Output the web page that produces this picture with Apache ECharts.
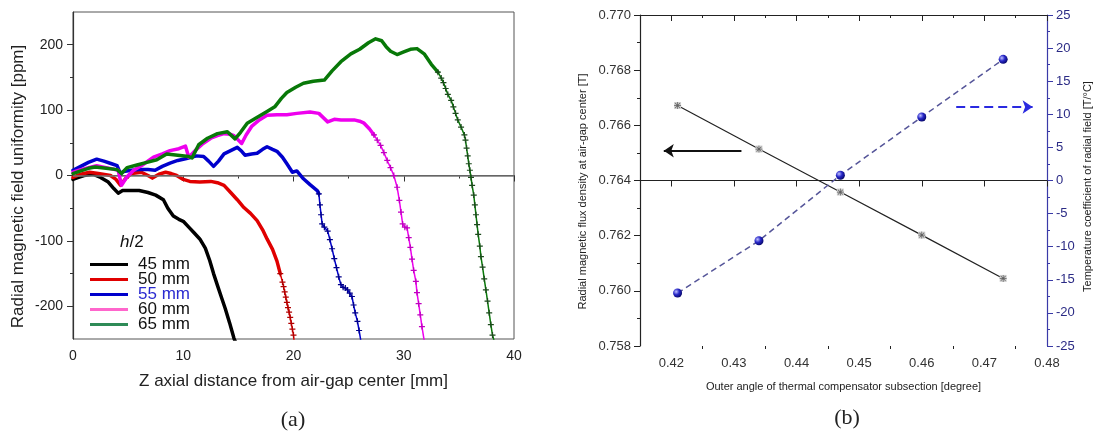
<!DOCTYPE html>
<html><head><meta charset="utf-8">
<script src="https://cdn.jsdelivr.net/npm/echarts@6/dist/echarts.min.js"></script>
<style>html,body{margin:0;padding:0;background:#fff}#c{width:1102px;height:436px}</style>
</head><body><div id="c"></div>
<script>
// ---------- (a) data: [z (mm), uniformity (ppm)] ----------
const curveNames = ['45 mm', '50 mm', '55 mm', '60 mm', '65 mm'];
const curve45 = [[0,-6],[0.5,-3],[1,0],[1.8,2],[2.5,-3],[3.2,-10],[3.7,-20],[4.1,-27],[4.5,-23],[5.2,-23],[6,-23],[6.8,-26],[7.5,-30],[8.2,-37],[8.6,-50],[9.1,-62],[9.6,-67],[10,-70],[10.5,-79],[11,-88],[11.5,-97],[12,-111],[12.4,-130],[12.75,-150],[13.1,-168],[13.5,-188],[13.8,-203],[14.2,-225],[14.6,-249],[14.7,-253]];
const curve50Body = [[0,-3],[0.7,2],[1.5,5],[2.3,3],[3.4,0],[3.9,-6],[4.3,-15],[4.8,-4],[5.3,3],[6.2,5],[6.8,0],[7.2,-4],[7.8,2],[8.4,5],[8.9,3],[9.4,0],[10,-6],[10.6,-9],[11.5,-10],[12.5,-9],[13.1,-11],[13.7,-15],[14.3,-26],[14.9,-37],[15.5,-49],[16.1,-58],[16.7,-69],[17.2,-83],[17.6,-97],[18.1,-113],[18.5,-131],[18.8,-150]];
const curve50Tail = [[18.8,-150],[19.0,-163],[19.1,-170],[19.2,-178],[19.3,-186],[19.4,-194],[19.5,-202],[19.6,-209],[19.7,-217],[19.8,-226],[19.9,-235],[20.0,-244],[20.05,-253]];
const curve55Body = [[0,8],[0.7,14],[1.4,20],[2.15,25],[2.8,22],[3.5,18],[4.0,15],[4.3,3],[4.6,6],[5.3,8],[6,9],[6.8,9],[7.45,8],[8.1,14],[8.8,19],[9.5,23],[10.3,26],[11.2,30],[11.85,29],[12.3,22],[12.75,14],[13.2,22],[13.7,33],[14.3,38],[14.9,43],[15.3,37],[15.6,31],[16.2,33],[16.7,34],[17.2,40],[17.6,44],[18.1,40],[18.5,37],[19,28],[19.4,18],[19.9,5],[20.3,7],[20.9,-5],[21.5,-14],[22.15,-23],[22.3,-28]];
const curve55Tail = [[22.3,-28],[22.4,-45],[22.5,-60],[22.6,-74],[22.8,-79],[23.1,-85],[23.3,-98],[23.5,-112],[23.7,-127],[23.9,-141],[24.1,-155],[24.3,-167],[24.5,-171],[24.7,-172],[24.9,-175],[25.1,-180],[25.3,-185],[25.45,-198],[25.6,-210],[25.8,-223],[25.95,-237],[26.1,-252]];
const curve60Body = [[0,5],[0.7,9],[1.4,12],[2.15,15],[3,12],[4.1,8],[4.4,-15],[4.9,-2],[5.5,8],[6.3,16],[7.3,28],[8.1,33],[8.8,38],[9.6,41],[10.2,45],[10.5,28],[11.2,40],[11.8,49],[12.5,57],[13.1,61],[13.7,64],[14.3,63],[14.6,61],[15.3,49],[15.7,62],[16.2,75],[16.9,85],[17.6,92],[18.5,93],[19.4,93],[20.3,95],[21.5,97],[22.3,95],[23.1,82],[23.7,86],[24.3,85],[25.5,85],[26,83],[26.4,80],[26.9,71],[27.3,62]];
const curve60Tail = [[27.3,62],[27.6,54],[27.9,46],[28.2,35],[28.5,23],[28.8,12],[29.1,0],[29.4,-18],[29.6,-38],[29.75,-56],[29.9,-74],[30.1,-79],[30.3,-80],[30.45,-95],[30.6,-110],[30.75,-128],[30.9,-145],[31.1,-162],[31.2,-179],[31.35,-196],[31.5,-213],[31.65,-231],[31.85,-252]];
const curve65Body = [[0,3],[0.7,7],[1.4,11],[2,13],[3,11],[4,9],[4.4,3],[4.9,12],[5.8,16],[6.7,20],[7.6,24],[8.5,33],[9.5,31],[10.5,29],[10.8,27],[11.4,47],[12.2,57],[13.1,64],[14,67],[14.7,56],[15.2,66],[15.8,80],[16.6,88],[17.6,98],[18.3,105],[18.9,118],[19.4,127],[20.2,135],[20.9,141],[21.8,144],[22.8,146],[23.5,160],[24.3,174],[25.2,186],[26,193],[26.8,203],[27.45,209],[28,206],[28.4,197],[28.8,190],[29.4,185],[30,189],[30.6,193],[31.2,194],[31.85,186],[32.5,170],[33.1,158]];
const curve65Tail = [[33.1,158],[33.4,149],[33.6,142],[33.8,133],[34.0,124],[34.3,115],[34.5,105],[34.7,95],[34.9,85],[35.2,74],[35.5,62],[35.6,54],[35.7,42],[35.8,30],[35.9,18],[36.0,8],[36.1,-3],[36.2,-15],[36.35,-30],[36.45,-45],[36.55,-60],[36.65,-75],[36.75,-90],[36.9,-108],[37.0,-124],[37.15,-140],[37.3,-158],[37.45,-175],[37.6,-192],[37.75,-210],[37.9,-228],[38.05,-244],[38.2,-253]];
const leftYTickValues = [-200, -100, 0, 100, 200];
const leftYMinorValues = [-150, -50, 50, 150];

// ---------- (b) data ----------
const outerAngle = [0.421, 0.434, 0.447, 0.460, 0.473];
const fluxDensity = [0.76672, 0.76514, 0.76358, 0.76202, 0.76045];
const tempCoeff = [-17.0, -9.1, 0.8, 9.6, 18.3];
const rightXTickValues = [0.42, 0.43, 0.44, 0.45, 0.46, 0.47, 0.48];
const rightXMinorValues = [0.425, 0.435, 0.445, 0.455, 0.465, 0.475];
const arrowFlux = [[0.4312, 0.76508], [0.4188, 0.76508]];
const arrowCoef = [[0.4655, 11.1], [0.4777, 11.1]];

const SANS = '"Liberation Sans", Arial, sans-serif';
const PLUS = 'path://M4,0H6V4H10V6H6V10H4V6H0V4H4Z';
const ASTER = 'path://M4.5,0H5.5V10H4.5Z M0,4.5H10V5.5H0Z M1.2,1.9L1.9,1.2L8.8,8.1L8.1,8.8Z M8.1,1.2L8.8,1.9L1.9,8.8L1.2,8.1Z';

const lineColors = ['#000000', '#e00000', '#0000cc', '#ee00ee', '#087808'];
const tailMarkColors = ['#000000', '#b00000', '#00008a', '#c000c0', '#1c4a1c'];
const bodies = [curve45, curve50Body, curve55Body, curve60Body, curve65Body];
const tails = [null, curve50Tail, curve55Tail, curve60Tail, curve65Tail];

const series = [];
bodies.forEach((b, i) => {
  const s = {
    type: 'line', name: curveNames[i], xAxisIndex: 0, yAxisIndex: 0,
    data: b, symbol: 'none', showSymbol: false, clip: true, animation: false,
    lineStyle: { color: lineColors[i], width: 3.5, join: 'round', cap: 'round' },
    itemStyle: { color: lineColors[i] }, z: 3 + i
  };
  if (i === 0) {
    s.markLine = { silent: true, symbol: 'none', label: { show: false }, animation: false,
      lineStyle: { color: '#777', width: 1.5, type: 'solid' }, data: [{ yAxis: 0 }] };
  }
  series.push(s);
  if (tails[i]) {
    series.push({
      type: 'line', name: curveNames[i] + ' tail', xAxisIndex: 0, yAxisIndex: 0,
      data: tails[i], symbol: PLUS, symbolSize: 6, showSymbol: true, clip: true, animation: false,
      lineStyle: { color: lineColors[i], width: 1.5 },
      itemStyle: { color: tailMarkColors[i] }, z: 3 + i
    });
  }
});

const fluxData = outerAngle.map((a, i) => [a, fluxDensity[i]]);
const coefData = outerAngle.map((a, i) => [a, tempCoeff[i]]);
series.push({
  type: 'line', name: 'flux', xAxisIndex: 1, yAxisIndex: 2, data: fluxData, animation: false,
  symbol: 'rect', symbolSize: 7, itemStyle: { color: '#cfcfcf' },
  lineStyle: { color: '#222', width: 1.2 }, z: 3,
  markLine: { silent: true, animation: false, symbol: ['none', 'arrow'], symbolSize: 10, label: { show: false },
    lineStyle: { color: '#111', width: 2, type: 'solid' },
    data: [[{ coord: arrowFlux[0] }, { coord: arrowFlux[1] }]] }
});
series.push({
  type: 'scatter', name: 'fluxMark', xAxisIndex: 1, yAxisIndex: 2, data: fluxData, animation: false,
  symbol: ASTER, symbolSize: 7, itemStyle: { color: '#444' }, z: 4
});
series.push({
  type: 'line', name: 'coef', xAxisIndex: 1, yAxisIndex: 3, data: coefData, animation: false,
  symbol: 'circle', symbolSize: 9,
  itemStyle: { color: { type: 'radial', x: 0.35, y: 0.35, r: 0.75, colorStops: [
    { offset: 0, color: '#c0c0ff' }, { offset: 0.45, color: '#2828c8' }, { offset: 1, color: '#00005a' }] } },
  lineStyle: { color: '#555599', width: 1.5, type: [6, 4] }, z: 3,
  markLine: { silent: true, animation: false, symbol: ['none', 'arrow'], symbolSize: 10, label: { show: false },
    lineStyle: { color: '#2a2ae0', width: 2, type: [9, 5] },
    data: [[{ coord: arrowCoef[0] }, { coord: arrowCoef[1] }]] }
});

const blk = '#222';
const option = {
  animation: false,
  textStyle: { fontFamily: SANS },
  grid: [
    { left: 73, top: 12, width: 441, height: 327, show: true, borderColor: '#555', borderWidth: 1 },
    { left: 640, top: 15, width: 407, height: 331 }
  ],
  legend: {
    left: 85, top: 251, orient: 'vertical', itemWidth: 38, itemHeight: 3, itemGap: -2, icon: 'rect',
    textStyle: { fontSize: 17, lineHeight: 15, color: '#111', padding: [0, 0, 0, 5], fontFamily: SANS },
    data: [
      { name: '45 mm' },
      { name: '50 mm' },
      { name: '55 mm', textStyle: { color: '#2a2ad0' } },
      { name: '60 mm', itemStyle: { color: '#ff66cc' } },
      { name: '65 mm', itemStyle: { color: '#2e8b57' } }
    ]
  },
  xAxis: [
    { gridIndex: 0, type: 'value', min: 0, max: 40, interval: 10,
      name: 'Z axial distance from air-gap center [mm]', nameLocation: 'middle', nameGap: 34,
      nameTextStyle: { fontSize: 17, color: blk },
      axisLine: { lineStyle: { color: '#333', width: 1.2 } },
      axisTick: { length: 6, lineStyle: { color: '#333' } },
      minorTick: { show: true, splitNumber: 2, length: 3, lineStyle: { color: '#333' } },
      axisLabel: { fontSize: 14, color: blk, margin: 10 }, splitLine: { show: false } },
    { gridIndex: 1, type: 'value', min: 0.415, max: 0.48, position: 'bottom',
      name: 'Outer angle of thermal compensator subsection [degree]', nameLocation: 'middle', nameGap: 35,
      nameTextStyle: { fontSize: 11, color: blk },
      axisLine: { lineStyle: { color: '#222', width: 1.2 } },
      axisTick: { length: 6, customValues: rightXTickValues, lineStyle: { color: '#222' } },
      axisLabel: { fontSize: 13, color: '#333', margin: 11, customValues: rightXTickValues,
        formatter: v => v.toFixed(2) },
      splitLine: { show: false } },
    { gridIndex: 1, type: 'value', min: 0.415, max: 0.48, position: 'bottom',
      axisLine: { show: false }, axisLabel: { show: false }, splitLine: { show: false },
      axisTick: { length: 3, customValues: rightXMinorValues, lineStyle: { color: '#222' } } },
    { gridIndex: 1, type: 'value', min: 0.415, max: 0.48, position: 'top',
      axisLine: { lineStyle: { color: '#222', width: 1.2 } }, axisLabel: { show: false }, splitLine: { show: false },
      axisTick: { inside: true, length: 6, customValues: rightXTickValues, lineStyle: { color: '#222' } } },
    { gridIndex: 1, type: 'value', min: 0.415, max: 0.48, position: 'top',
      axisLine: { show: false }, axisLabel: { show: false }, splitLine: { show: false },
      axisTick: { inside: true, length: 3, customValues: rightXMinorValues, lineStyle: { color: '#222' } } }
  ],
  yAxis: [
    { gridIndex: 0, type: 'value', min: -250, max: 250, position: 'left',
      name: 'Radial magnetic field uniformity [ppm]', nameLocation: 'middle', nameGap: 46, nameRotate: 90,
      nameTextStyle: { fontSize: 17, color: blk, padding: [0, 22, 0, 0] },
      axisLine: { show: true, lineStyle: { color: '#333', width: 1.2 } },
      axisTick: { show: true, length: 6, customValues: leftYTickValues, lineStyle: { color: '#333' } },
      axisLabel: { fontSize: 14, color: blk, margin: 10, customValues: leftYTickValues },
      splitLine: { show: false } },
    { gridIndex: 0, type: 'value', min: -250, max: 250, position: 'left', offset: 0,
      axisLine: { show: false }, axisLabel: { show: false }, splitLine: { show: false },
      axisTick: { show: true, length: 3, customValues: leftYMinorValues, lineStyle: { color: '#333' } } },
    { gridIndex: 1, type: 'value', min: 0.758, max: 0.770, interval: 0.002, position: 'left',
      name: 'Radial magnetic flux density at air-gap center [T]', nameLocation: 'middle', nameGap: 52, nameRotate: 90,
      nameTextStyle: { fontSize: 11, color: blk, padding: [0, 22, 0, 0] },
      axisLine: { show: true, lineStyle: { color: '#222', width: 1.2 } },
      axisTick: { show: true, length: 6, lineStyle: { color: '#222' } },
      minorTick: { show: true, splitNumber: 2, length: 3, lineStyle: { color: '#222' } },
      axisLabel: { fontSize: 13, color: '#333', margin: 9, formatter: v => v.toFixed(3) },
      splitLine: { show: false } },
    { gridIndex: 1, type: 'value', min: -25, max: 25, interval: 5, position: 'right',
      name: 'Temperature coefficient of radial field [T/°C]', nameLocation: 'middle', nameGap: 35, nameRotate: 90,
      nameTextStyle: { fontSize: 11, color: blk, padding: [0, 12, 0, 0] },
      axisLine: { show: true, lineStyle: { color: '#3a3aa8', width: 1.2 } },
      axisTick: { show: true, length: 6, lineStyle: { color: '#3a3aa8' } },
      minorTick: { show: true, splitNumber: 2, length: 3, lineStyle: { color: '#3a3aa8' } },
      axisLabel: { fontSize: 13, color: '#2b2b85', margin: 9 },
      splitLine: { show: false } }
  ],
  graphic: [
    { type: 'text', x: 120, y: 242, style: { text: '{i|h}/2', fill: '#111', font: '17px "Liberation Sans"', verticalAlign: 'middle',
      rich: { i: { fontStyle: 'italic', fontSize: 17, fontFamily: 'Liberation Sans' } } } },
    { type: 'text', x: 293, y: 420, style: { text: '(a)', fill: '#222', font: '22px "Liberation Serif", serif', align: 'center', verticalAlign: 'middle' } },
    { type: 'text', x: 847, y: 418, style: { text: '(b)', fill: '#222', font: '22px "Liberation Serif", serif', align: 'center', verticalAlign: 'middle' } }
  ],
  series: series
};
const chart = echarts.init(document.getElementById('c'), null, { renderer: 'canvas' });
chart.setOption(option);
</script></body></html>
